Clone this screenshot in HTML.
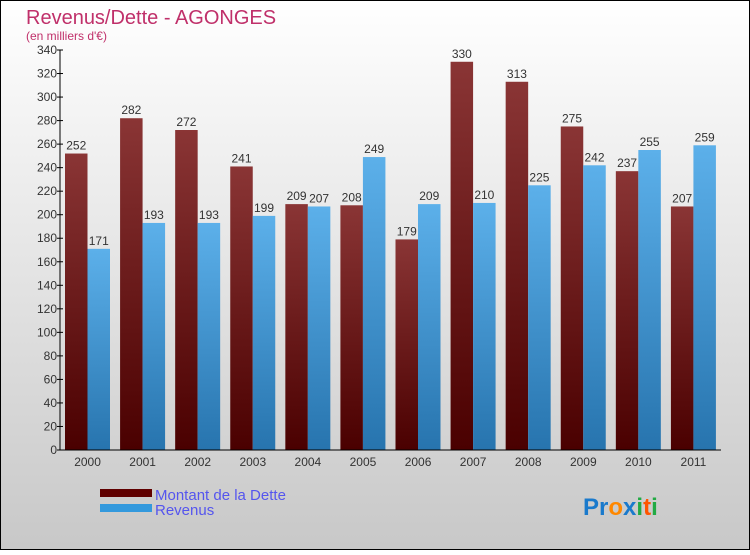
<!DOCTYPE html>
<html><head><meta charset="utf-8"><style>
body{margin:0}
svg text{font-family:"Liberation Sans",sans-serif}
</style></head><body>
<svg id="c" width="750" height="550" xmlns="http://www.w3.org/2000/svg">
<defs>
<linearGradient id="bg" x1="0" y1="0" x2="0" y2="1"><stop offset="0" stop-color="#ffffff"/><stop offset="1" stop-color="#c8c8c8"/></linearGradient>
<linearGradient id="gd" x1="0" y1="0" x2="0" y2="1"><stop offset="0" stop-color="#8a3535"/><stop offset="1" stop-color="#4a0000"/></linearGradient>
<linearGradient id="gr" x1="0" y1="0" x2="0" y2="1"><stop offset="0" stop-color="#5cb0ea"/><stop offset="1" stop-color="#2774ae"/></linearGradient>
</defs>
<rect x="0.5" y="0.5" width="749" height="549" fill="url(#bg)" stroke="#000"/>
<text x="26" y="24" font-size="20" fill="#c0306a">Revenus/Dette - AGONGES</text>
<text x="26" y="40" font-size="12" fill="#c0306a">(en milliers d'€)</text>
<g id="bars"></g>
<g id="axes"></g>
<rect x="100" y="489" width="52" height="8" fill="#600000"/>
<text x="155" y="500" font-size="15" fill="#5555ee">Montant de la Dette</text>
<rect x="100" y="504" width="52" height="8" fill="#3399dd"/>
<text x="155" y="515" font-size="15" fill="#5555ee">Revenus</text>
<text x="583" y="515" font-size="24" font-weight="bold"><tspan fill="#1a7acc">Pr</tspan><tspan fill="#ff8800">o</tspan><tspan fill="#1a7acc">x</tspan><tspan fill="#22aa44">i</tspan><tspan fill="#ff5500">t</tspan><tspan fill="#22aa44">i</tspan></text>
</svg>
<script>
const categories=["2000","2001","2002","2003","2004","2005","2006","2007","2008","2009","2010","2011"];
const dette=[252,282,272,241,209,208,179,330,313,275,237,207];
const revenus=[171,193,193,199,207,249,209,210,225,242,255,259];
const yTicks=[0,20,40,60,80,100,120,140,160,180,200,220,240,260,280,300,320,340];
const NS="http://www.w3.org/2000/svg";
const x0=60,x1=721,yTop=50,yBot=450,yMax=340;
const gw=(x1-x0)/categories.length;
function y(v){return yBot-v/yMax*(yBot-yTop);}
function gx(i){return x0+i*gw;}
function mk(t,a,p){const e=document.createElementNS(NS,t);for(const k in a)e.setAttribute(k,a[k]);p.appendChild(e);return e;}
const bars=document.getElementById('bars'),axes=document.getElementById('axes');
const bw=22.5;
categories.forEach((c,i)=>{
  const xd=gx(i)+5, xr=xd+bw;
  const d=mk('rect',{x:xd,y:y(dette[i]),width:bw,height:yBot-y(dette[i]),fill:'url(#gd)'},bars);
  
  
  const r=mk('rect',{x:xr,y:y(revenus[i]),width:bw,height:yBot-y(revenus[i]),fill:'url(#gr)'},bars);
  
  
  const t1=mk('text',{x:xd+bw/2,y:y(dette[i])-4,'font-size':12,'text-anchor':'middle',fill:'#333'},bars);t1.textContent=dette[i];
  
  
  const t2=mk('text',{x:xr+bw/2,y:y(revenus[i])-4,'font-size':12,'text-anchor':'middle',fill:'#333'},bars);t2.textContent=revenus[i];
  
  
  const xl=mk('text',{x:gx(i)+gw/2,y:466,'font-size':12,'text-anchor':'middle',fill:'#333'},axes);xl.textContent=c;
  
  
});
const ya=mk('line',{x1:x0,y1:yTop,x2:x0,y2:yBot,stroke:'#000'},axes);


const xa=mk('line',{x1:x0,y1:yBot,x2:x1,y2:yBot,stroke:'#000'},axes);


yTicks.forEach(v=>{
  mk('line',{x1:x0-3,y1:y(v),x2:x0+3,y2:y(v),stroke:'#000'},axes);
  const t=mk('text',{x:x0-3,y:y(v)+4,'font-size':12,'text-anchor':'end',fill:'#333'},axes);t.textContent=v;
  
  
});
</script>
</body></html>
